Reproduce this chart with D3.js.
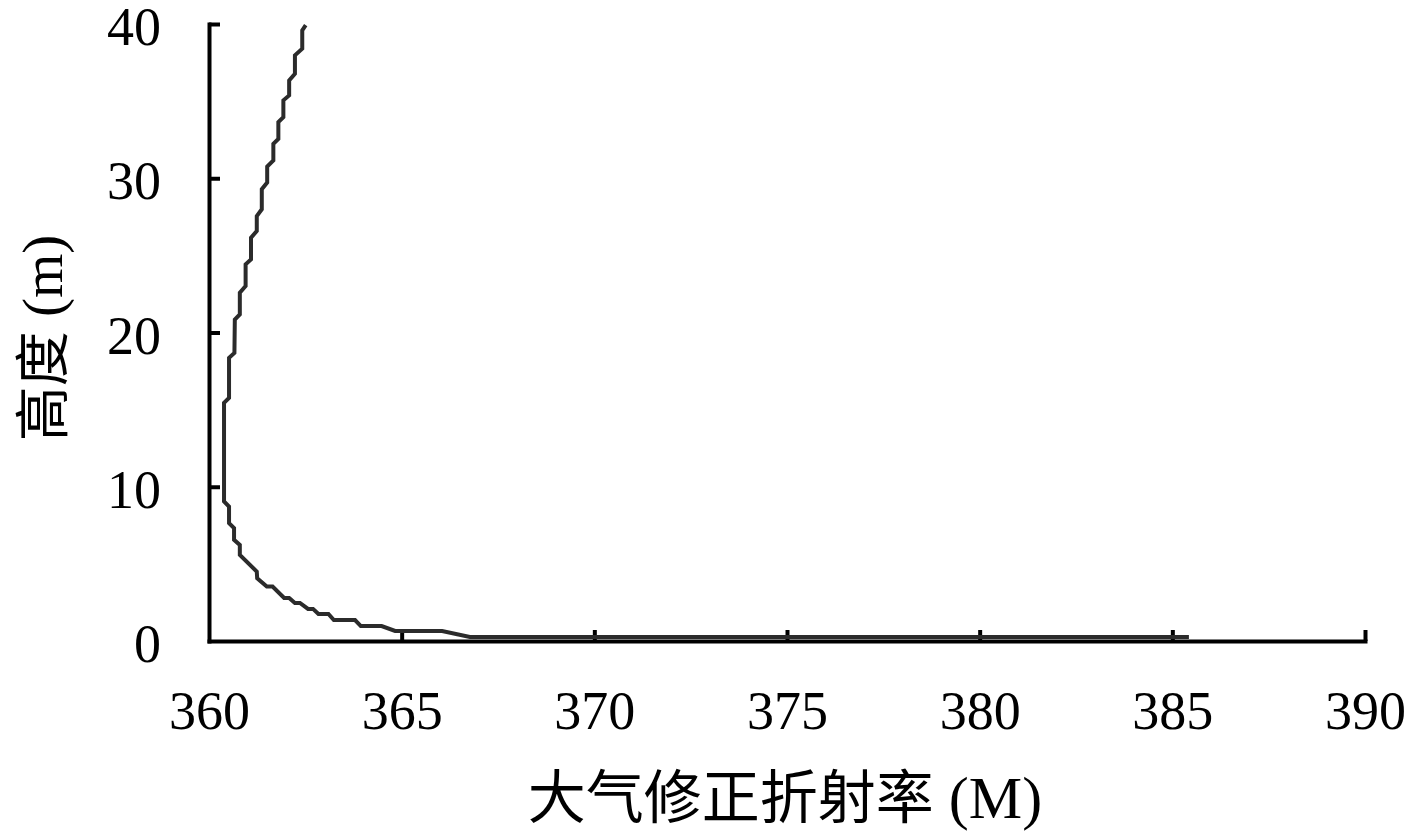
<!DOCTYPE html>
<html>
<head>
<meta charset="utf-8">
<script src="https://cdn.jsdelivr.net/npm/d3@7"></script>
<style>
  html, body { margin: 0; padding: 0; background: #fff; }
  svg { display: block; }
</style>
</head>
<body>
<svg id="chart" width="1417" height="839"></svg>
<script>
// Modified refractivity M (x) versus height in m (y)
const refractivityM = [
  362.51, 362.42, 362.42, 362.23, 362.23, 362.08, 362.08, 361.93, 361.93, 361.80,
  361.80, 361.67, 361.67, 361.51, 361.51, 361.37, 361.37, 361.24, 361.24, 361.09,
  361.09, 360.95, 360.95, 360.80, 360.80, 360.67, 360.66, 360.52, 360.52, 360.39,
  360.39, 360.52, 360.52, 360.65, 360.65, 360.80, 360.80, 361.24, 361.25, 361.50,
  361.65, 361.95, 362.08, 362.23, 362.36, 362.57, 362.70, 362.84, 363.10, 363.24,
  363.79, 363.94, 364.48, 364.83, 366.05, 366.77, 385.43
];
const heightM = [
  39.92, 39.59, 38.40, 37.97, 36.77, 36.34, 35.37, 35.05, 33.96, 33.64,
  32.55, 32.23, 31.15, 30.76, 29.72, 29.29, 27.99, 27.55, 26.58, 26.15,
  24.74, 24.42, 23.01, 22.58, 21.17, 20.84, 18.68, 18.36, 15.76, 15.44,
  9.05, 8.72, 7.64, 7.32, 6.56, 6.23, 5.58, 4.50, 4.07, 3.53,
  3.53, 2.79, 2.79, 2.47, 2.47, 2.08, 2.08, 1.75, 1.75, 1.36,
  1.36, 0.97, 0.97, 0.65, 0.65, 0.26, 0.26
];
const xTicks = [360, 365, 370, 375, 380, 385, 390];
const yTicks = [0, 10, 20, 30, 40];
const xTitleCJK = "大气修正折射率";
const xTitleUnit = "(M)";
const yTitleCJK = "高度";
const yTitleUnit = "(m)";

const svg = d3.select("#chart");
const x = d3.scaleLinear().domain([360, 390]).range([209, 1365]);
const y = d3.scaleLinear().domain([0, 40]).range([641, 24]);

const serif = "'Liberation Serif', 'DejaVu Serif', serif";
const cjk = "'Noto Sans CJK SC', sans-serif";

// X axis
const gx = svg.append("g")
  .attr("transform", `translate(0,${y(0)})`)
  .call(d3.axisBottom(x).tickValues(xTicks).tickSizeInner(-11).tickSizeOuter(0).tickPadding(50).tickFormat(d3.format("d")));
// Y axis
const gy = svg.append("g")
  .attr("transform", `translate(${x(360)},0)`)
  .call(d3.axisLeft(y).tickValues(yTicks).tickSizeInner(-11).tickSizeOuter(0).tickPadding(48).tickFormat(d3.format("d")));

[gx, gy].forEach(g => {
  g.select(".domain").attr("stroke", "#000").attr("stroke-width", 4).attr("stroke-linecap", "square");
  g.selectAll(".tick line").attr("stroke", "#000").attr("stroke-width", 4);
  g.selectAll(".tick text").attr("fill", "#000").style("font-family", serif).style("font-size", "54px");
});
gy.selectAll(".tick text").attr("dy", "0.38em");
gx.selectAll(".tick").filter(d => d === 360).select("line").remove();
gy.selectAll(".tick").filter(d => d === 0).select("line").remove();

// Curve
const pts = refractivityM.map((m, i) => [m, heightM[i]]);
svg.append("path")
  .datum(pts)
  .attr("fill", "none")
  .attr("stroke", "#2b2b2b")
  .attr("stroke-width", 4)
  .attr("stroke-linejoin", "miter")
  .attr("d", d3.line().x(d => x(d[0])).y(d => y(d[1])));

// X title
const xt = svg.append("text")
  .attr("x", 785).attr("y", 818)
  .attr("text-anchor", "middle")
  .attr("fill", "#000");
xt.append("tspan").style("font-family", cjk).style("font-size", "58px").text(xTitleCJK);
xt.append("tspan").style("font-family", serif).style("font-size", "60px").text(" " + xTitleUnit);

// Y title
const yt = svg.append("text")
  .attr("transform", `translate(62,338) rotate(-90)`)
  .attr("text-anchor", "middle")
  .attr("fill", "#000");
yt.append("tspan").style("font-family", cjk).style("font-size", "55px").text(yTitleCJK);
yt.append("tspan").style("font-family", serif).style("font-size", "57px").text(" " + yTitleUnit);
</script>
</body>
</html>
